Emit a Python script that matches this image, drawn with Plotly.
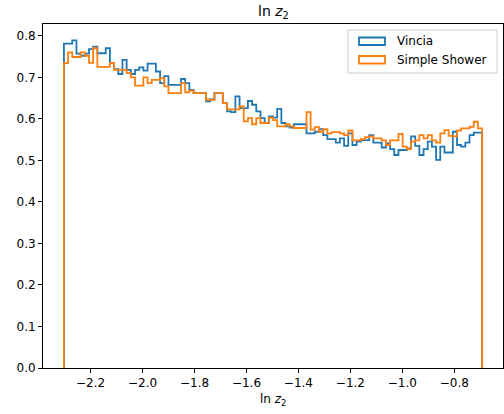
import numpy as np
import plotly.graph_objects as go

# Histogram binning (ln z2 from ln 0.1 to ln 0.5, 100 bins)
x_min = -2.302585
x_max = -0.693147
n_bins = 100

vincia = [
    0.781, 0.781, 0.789, 0.757, 0.752, 0.757, 0.768, 0.774, 0.758, 0.758,
    0.770, 0.734, 0.720, 0.708, 0.742, 0.718, 0.708, 0.718, 0.724, 0.716,
    0.733, 0.733, 0.714, 0.686, 0.703, 0.682, 0.682, 0.682, 0.696, 0.686,
    0.670, 0.662, 0.662, 0.662, 0.642, 0.647, 0.662, 0.662, 0.638, 0.618,
    0.616, 0.654, 0.626, 0.626, 0.643, 0.634, 0.618, 0.602, 0.590, 0.606,
    0.603, 0.624, 0.590, 0.582, 0.579, 0.587, 0.587, 0.587, 0.565, 0.565,
    0.569, 0.575, 0.561, 0.551, 0.551, 0.543, 0.553, 0.535, 0.565, 0.537,
    0.545, 0.549, 0.549, 0.561, 0.543, 0.543, 0.531, 0.541, 0.527, 0.513,
    0.525, 0.525, 0.529, 0.558, 0.535, 0.513, 0.527, 0.545, 0.533, 0.501,
    0.533, 0.519, 0.519, 0.569, 0.537, 0.533, 0.543, 0.561, 0.567, 0.567,
]

simple_shower = [
    0.734, 0.760, 0.749, 0.749, 0.760, 0.752, 0.735, 0.770, 0.725, 0.725,
    0.725, 0.734, 0.718, 0.718, 0.718, 0.710, 0.700, 0.680, 0.680, 0.700,
    0.686, 0.694, 0.694, 0.698, 0.678, 0.662, 0.662, 0.662, 0.686, 0.664,
    0.668, 0.662, 0.662, 0.662, 0.646, 0.646, 0.662, 0.662, 0.638, 0.623,
    0.623, 0.623, 0.630, 0.594, 0.602, 0.587, 0.602, 0.590, 0.590, 0.603,
    0.597, 0.582, 0.582, 0.587, 0.582, 0.578, 0.578, 0.578, 0.616, 0.574,
    0.580, 0.569, 0.575, 0.565, 0.568, 0.568, 0.565, 0.561, 0.572, 0.548,
    0.548, 0.551, 0.556, 0.558, 0.553, 0.553, 0.548, 0.537, 0.548, 0.548,
    0.564, 0.533, 0.527, 0.545, 0.548, 0.561, 0.553, 0.561, 0.548, 0.543,
    0.565, 0.573, 0.559, 0.558, 0.572, 0.577, 0.577, 0.581, 0.593, 0.577,
]

series_names = ["Vincia", "Simple Shower"]
series_colors = ["#1f77b4", "#ff7f0e"]

x_ticks = [-2.2, -2.0, -1.8, -1.6, -1.4, -1.2, -1.0, -0.8]
y_ticks = [0.0, 0.1, 0.2, 0.3, 0.4, 0.5, 0.6, 0.7, 0.8]

edges = np.linspace(x_min, x_max, n_bins + 1)


def step_xy(vals):
    xs = [edges[0]] + list(edges[:-1]) + [edges[-1], edges[-1]]
    ys = [0.0] + list(vals) + [vals[-1], 0.0]
    return xs, ys


fig = go.Figure()
for vals, name, col in zip([vincia, simple_shower], series_names, series_colors):
    xs, ys = step_xy(vals)
    fig.add_trace(go.Scatter(x=xs, y=ys, mode="lines", line=dict(color=col, width=1.8, shape="hv"),
                             name=name, showlegend=False, hoverinfo="skip"))

span = x_max - x_min
x_range = [x_min - 0.05 * span, x_max + 0.05 * span]
y_top = max(max(vincia), max(simple_shower)) * 1.05

font = "DejaVu Sans, Liberation Sans, sans-serif"
axis_common = dict(showline=True, linecolor="black", linewidth=1, mirror=True,
                   ticks="outside", ticklen=4, tickwidth=1, tickcolor="black",
                   showgrid=False, zeroline=False, tickfont=dict(family=font, size=12, color="black"))

fig.update_layout(
    width=504, height=414,
    margin=dict(l=43, r=1, t=24, b=46, autoexpand=False),
    paper_bgcolor="white", plot_bgcolor="white",
    xaxis=dict(range=x_range, tickvals=x_ticks, tickformat=".1f", **axis_common),
    yaxis=dict(range=[0, y_top], tickvals=y_ticks, tickformat=".1f", **axis_common),
    showlegend=False,
)

# pixel -> paper coordinates (plot area x 43-503, y 24-368)
W, H, L, T = 460.0, 344.0, 43.0, 24.0


def px(xp):
    return (xp - L) / W


def py(yp):
    return (T + H - yp) / H


# title and x-axis label
fig.add_annotation(xref="paper", yref="paper", x=px(273), y=py(12), text="ln <i>z</i><sub>2</sub>",
                   showarrow=False, xanchor="center", yanchor="middle",
                   font=dict(family=font, size=14, color="black"))
fig.add_annotation(xref="paper", yref="paper", x=px(273), y=py(400), text="ln <i>z</i><sub>2</sub>",
                   showarrow=False, xanchor="center", yanchor="middle",
                   font=dict(family=font, size=12, color="black"))

# legend drawn in paper coordinates (matplotlib-style box with patch outlines)
fig.add_shape(type="rect", xref="paper", yref="paper", x0=px(348), x1=px(497), y0=py(73), y1=py(30),
              line=dict(color="#cccccc", width=1), fillcolor="rgba(255,255,255,0.8)", layer="above")
patch_rows = [(37.5, 45.0, 41.5), (56.0, 63.5, 60.0)]
for (ya, yb, yt), name, col in zip(patch_rows, series_names, series_colors):
    fig.add_shape(type="rect", xref="paper", yref="paper", x0=px(359), x1=px(385), y0=py(yb), y1=py(ya),
                  line=dict(color=col, width=1.8), fillcolor="rgba(0,0,0,0)", layer="above")
    fig.add_annotation(xref="paper", yref="paper", x=px(395), y=py(yt), text=name, showarrow=False,
                       xanchor="left", yanchor="middle", font=dict(family=font, size=12, color="black"))

# remove the default 8px page margin so the figure sits at the window's top-left corner
fig.write_html("out.html", config={"displayModeBar": False},
               post_script="document.body.style.margin='0px';")
